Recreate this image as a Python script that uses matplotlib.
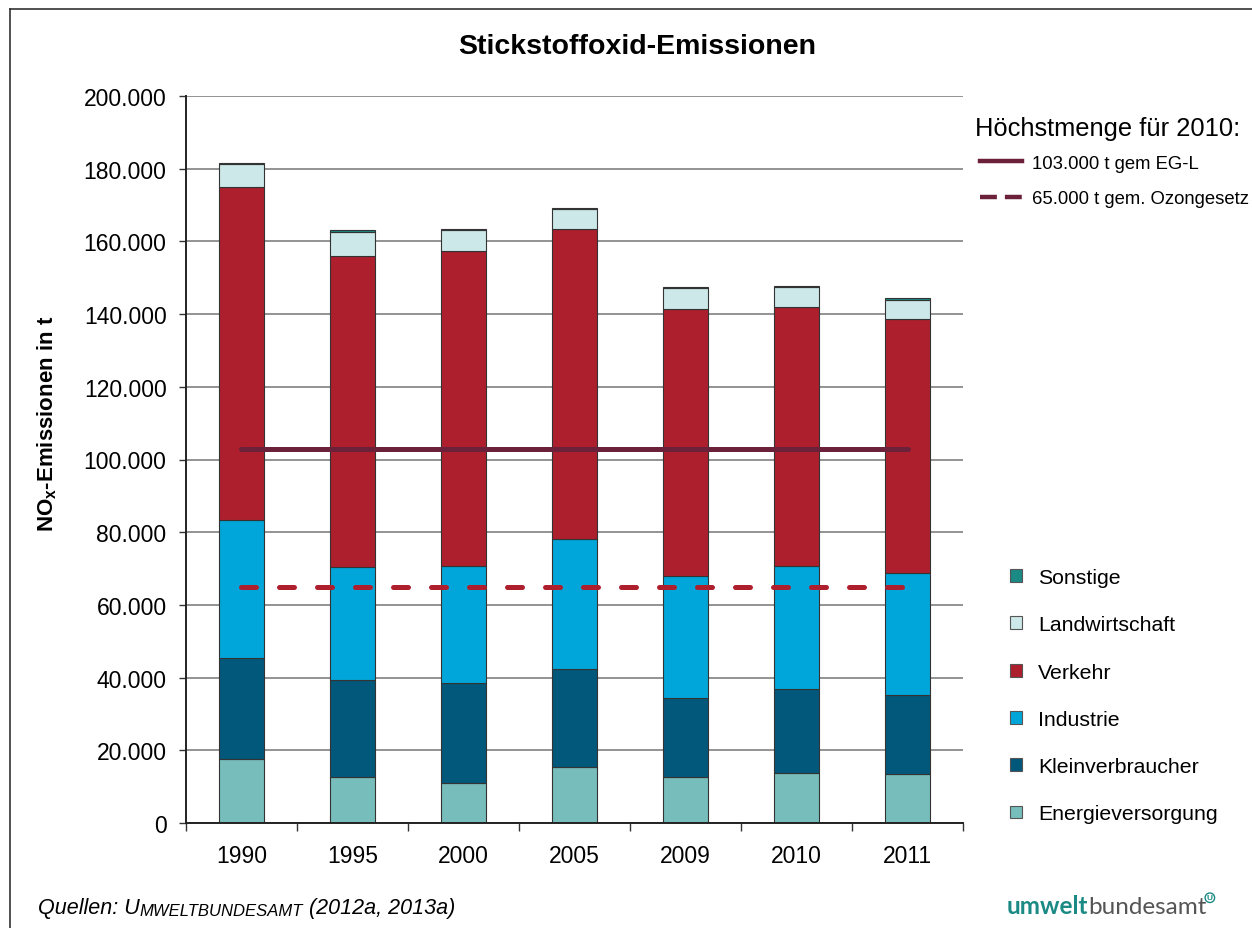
import matplotlib
matplotlib.use('Agg')
import matplotlib.pyplot as plt
import numpy as np
from matplotlib.lines import Line2D
from matplotlib.patches import Patch

plt.rcParams['font.family'] = ['Liberation Sans', 'DejaVu Sans']
plt.rcParams['mathtext.fontset'] = 'custom'
plt.rcParams['mathtext.bf'] = 'Liberation Sans:bold'
plt.rcParams['mathtext.rm'] = 'Liberation Sans'

years = ['1990', '1995', '2000', '2005', '2009', '2010', '2011']
# emissions in t, stacked from bottom to top
energie = [17700, 12600, 10900, 15300, 12600, 13800, 13500]
klein = [27700, 26700, 27600, 27100, 21700, 23100, 21700]
industrie = [37900, 31000, 32200, 35600, 33600, 33700, 33700]
verkehr = [91700, 85800, 86700, 85300, 73600, 71400, 69700]
landwirtschaft = [6300, 6600, 5800, 5500, 5700, 5400, 5400]
sonstige = [300, 300, 300, 300, 300, 300, 300]

limit_egl = 103000
limit_ozon = 65000

series = [
    ('Energieversorgung', energie, '#77BDBB'),
    ('Kleinverbraucher', klein, '#02587A'),
    ('Industrie', industrie, '#00A6D9'),
    ('Verkehr', verkehr, '#AE1F2D'),
    ('Landwirtschaft', landwirtschaft, '#CCE8E8'),
    ('Sonstige', sonstige, '#1B8A84'),
]

fig = plt.figure(figsize=(12.52, 9.29), dpi=100)
ax = fig.add_axes([186 / 1252, 1 - 824 / 929, 777 / 1252, 727 / 929])

x = np.arange(len(years))
bottom = np.zeros(len(years))
for name, vals, col in series:
    ax.bar(x, vals, 0.4, bottom=bottom, color=col, edgecolor='#333333',
           linewidth=0.8, zorder=2)
    bottom += np.array(vals)

ax.plot([x[0], x[-1]], [limit_egl, limit_egl], color='#6B2139', lw=3.6,
        solid_capstyle='round', zorder=3)
ax.plot([x[0], x[-1]], [limit_ozon, limit_ozon], color='#AE1F2D', lw=3.6,
        dashes=(3.0, 4.6), dash_capstyle='round', zorder=3)

ax.set_xlim(-0.5, len(years) - 0.5)
ax.set_ylim(0, 200000)
ax.set_yticks(np.arange(0, 200001, 20000))
ax.set_yticklabels(['0'] + [f'{v:,}'.replace(',', '.') for v in range(20000, 200001, 20000)])
ax.yaxis.grid(True, color='#808080', lw=1.2, zorder=0)
ax.set_axisbelow(True)

ax.set_xticks(np.arange(-0.5, len(years)), [''] * (len(years) + 1))
ax.set_xticks(x, years, minor=True)
ax.tick_params(axis='x', which='major', length=6, width=1, color='#333333')
ax.tick_params(axis='x', which='minor', length=0, pad=15, labelsize=16.5)
ax.tick_params(axis='y', length=5, width=1, color='#333333', pad=9, labelsize=16.5)

for s in ['top', 'right']:
    ax.spines[s].set_visible(False)
ax.spines['left'].set_color('#222222')
ax.spines['bottom'].set_color('#222222')
ax.spines['left'].set_linewidth(1.4)
ax.spines['bottom'].set_linewidth(1.4)

ax.set_ylabel(r'$\mathbf{NO_x}$-Emissionen in t', fontsize=16, fontweight='bold')
ax.yaxis.set_label_coords((59 - 186) / 777, (824 - 424) / 727)

fig.text(637 / 1252, 1 - 47 / 929, 'Stickstoffoxid-Emissionen', fontsize=20.5,
         fontweight='bold', ha='center', va='center')

# legends
fig.text(975 / 1252, 1 - 129 / 929, 'Höchstmenge für 2010:', fontsize=18.4,
         ha='left', va='center')
line_handles = [Line2D([], [], color='#6B2139', lw=3.2),
                Line2D([], [], color='#6B2139', lw=3.2, dashes=(3.8, 1.8))]
leg1 = fig.legend(line_handles, ['103.000 t gem EG-L', '65.000 t gem. Ozongesetz'],
                  loc='upper left', bbox_to_anchor=(963 / 1252, 1 - 139 / 929),
                  frameon=False, fontsize=13.3, handlelength=2.3,
                  handletextpad=0.55, labelspacing=1.0)

patch_handles = [Patch(facecolor=col, edgecolor='#555555', lw=0.8) for _, _, col in series[::-1]]
leg2 = fig.legend(patch_handles, [n for n, _, _ in series[::-1]], loc='upper left',
                  bbox_to_anchor=(991 / 1252, 1 - 550 / 929), frameon=False,
                  fontsize=15.3, handlelength=0.55, handleheight=0.55,
                  handletextpad=0.75, labelspacing=1.33)

# source line
t1 = fig.text(38 / 1252, 1 - 914 / 929, 'Quellen: U', fontsize=15.5, style='italic',
              va='baseline')
t2 = plt.annotate('MWELTBUNDESAMT', xy=(1, 0), xycoords=t1, fontsize=12,
                  style='italic', va='bottom', ha='left')
plt.annotate(' (2012a, 2013a)', xy=(1, 0), xycoords=t2, fontsize=15.5,
             style='italic', va='bottom', ha='left')

# logo
l1 = fig.text(1007 / 1252, 1 - 914 / 929, 'umwelt', fontsize=17.5, fontweight='bold',
              color='#1B8A84', family='Lato', va='baseline')
l2 = plt.annotate('bundesamt', xy=(1, 0), xycoords=l1, fontsize=17.5, color='#555555',
                  family='Lato', va='bottom', ha='left')
plt.annotate('U', xy=(1, 0.75), xycoords=l2, fontsize=6, color='#1B8A84',
             fontweight='bold', va='bottom', ha='left',
             bbox=dict(boxstyle='circle,pad=0.15', fc='white', ec='#1B8A84', lw=1))

# frame around the figure
fig.add_artist(Line2D([10 / 1252, 10 / 1252], [0, 1 - 10 / 929], color='#333333', lw=1.2,
                      transform=fig.transFigure))
fig.add_artist(Line2D([10 / 1252, 1], [1 - 10 / 929, 1 - 10 / 929], color='#333333', lw=1.2,
                      transform=fig.transFigure))

fig.savefig('out.png', dpi=100)
